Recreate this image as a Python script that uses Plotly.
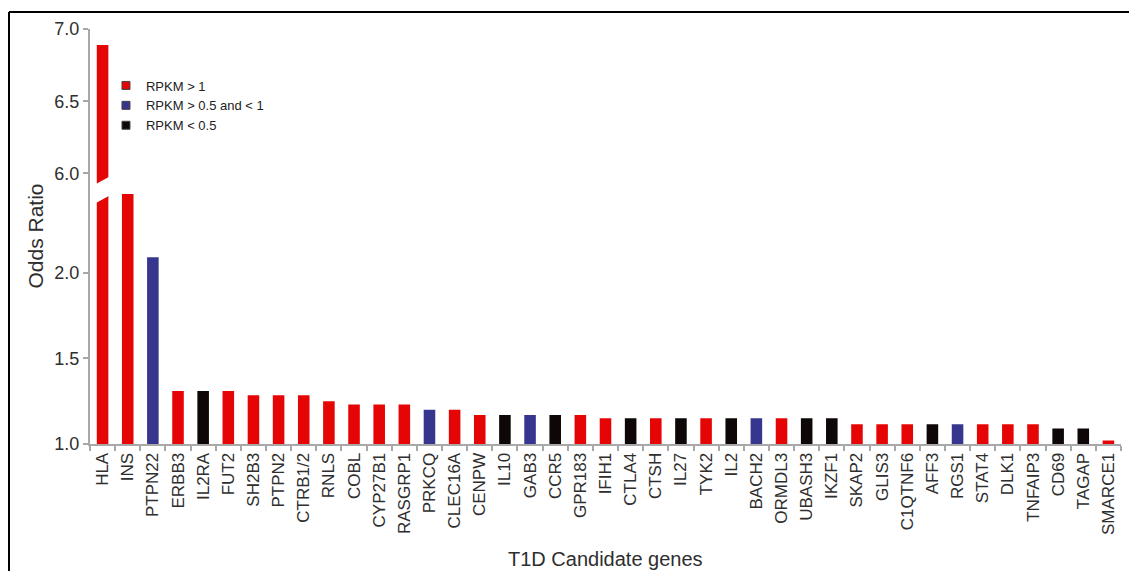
import plotly.graph_objects as go

# T1D candidate genes, odds ratios and RPKM expression class
genes = ["HLA", "INS", "PTPN22", "ERBB3", "IL2RA", "FUT2", "SH2B3", "PTPN2",
         "CTRB1/2", "RNLS", "COBL", "CYP27B1", "RASGRP1", "PRKCQ", "CLEC16A",
         "CENPW", "IL10", "GAB3", "CCR5", "GPR183", "IFIH1", "CTLA4", "CTSH",
         "IL27", "TYK2", "IL2", "BACH2", "ORMDL3", "UBASH3", "IKZF1", "SKAP2",
         "GLIS3", "C1QTNF6", "AFF3", "RGS1", "STAT4", "DLK1", "TNFAIP3", "CD69",
         "TAGAP", "SMARCE1"]
odds_ratio = [6.89, 2.46, 2.09, 1.31, 1.31, 1.31, 1.285, 1.285,
              1.285, 1.25, 1.23, 1.23, 1.23, 1.20, 1.20,
              1.17, 1.17, 1.17, 1.17, 1.17, 1.15, 1.15, 1.15,
              1.15, 1.15, 1.15, 1.15, 1.15, 1.15, 1.15, 1.115,
              1.115, 1.115, 1.115, 1.115, 1.115, 1.115, 1.115, 1.09,
              1.09, 1.02]
rpkm_class = ["high", "high", "mid", "high", "low", "high", "high", "high",
              "high", "high", "high", "high", "high", "mid", "high",
              "high", "low", "mid", "low", "high", "high", "low", "high",
              "low", "high", "low", "mid", "high", "low", "low", "high",
              "high", "high", "low", "mid", "high", "high", "high", "low",
              "low", "high"]

class_names = {"high": "RPKM > 1", "mid": "RPKM > 0.5 and < 1", "low": "RPKM < 0.5"}
class_colors = {"high": "#e60505", "mid": "#37368f", "low": "#0e0707"}
class_order = ["high", "mid", "low"]

lower_ticks = [1.0, 1.5, 2.0]
upper_ticks = [6.0, 6.5, 7.0]

# broken y axis: lower and upper segments
lower_range = [1.0, 2.484]
upper_range = [5.887, 7.0]
split = 0.6125

PLOT_H = 415
BAR_W = 0.46
AXIS_GRAY = "#a8a8a8"
TEXT = "#2e2e2e"
FONT = "Liberation Sans, Arial, Helvetica, sans-serif"

fig = go.Figure()

# lower segment bars, one trace per expression class
for c in class_order:
    xs = [g for g, k in zip(genes, rpkm_class) if k == c]
    ys = [v for v, k in zip(odds_ratio, rpkm_class) if k == c]
    fig.add_trace(go.Bar(x=xs, y=ys, marker=dict(color=class_colors[c], line=dict(width=0)),
                         width=BAR_W, showlegend=False, name=class_names[c],
                         xaxis="x", yaxis="y"))

# upper segment: bars tall enough to reach above the break
top_x = [g for g, v in zip(genes, odds_ratio) if v > lower_range[1]]
top_y = [v - upper_range[0] for v in odds_ratio if v > lower_range[1]]
top_c = [class_colors[k] for v, k in zip(odds_ratio, rpkm_class) if v > lower_range[1]]
fig.add_trace(go.Bar(x=top_x, y=top_y, base=upper_range[0],
                     marker=dict(color=top_c, line=dict(width=0)),
                     width=BAR_W, showlegend=False, xaxis="x2", yaxis="y2"))

# legend swatches
for c in class_order:
    fig.add_trace(go.Scatter(x=[None], y=[None], mode="markers", name=class_names[c],
                             marker=dict(symbol="square", size=8, color=class_colors[c],
                                         line=dict(color="#444444", width=1)),
                             xaxis="x", yaxis="y"))

axis_common = dict(showline=True, linecolor=AXIS_GRAY, linewidth=2,
                   ticks="outside", tickcolor=AXIS_GRAY, ticklen=5, tickwidth=2,
                   showgrid=False, zeroline=False,
                   tickfont=dict(family=FONT, size=17, color=TEXT))

fig.update_layout(
    width=1129, height=571,
    margin=dict(l=90, r=8, t=29, b=127),
    paper_bgcolor="white", plot_bgcolor="white",
    barmode="overlay",
    font=dict(family=FONT, color=TEXT),
    xaxis=dict(type="category", categoryorder="array", categoryarray=genes,
               range=[-0.5, len(genes) - 0.5], tickangle=-90, tickson="boundaries",
               anchor="y", **axis_common),
    xaxis2=dict(matches="x", anchor="y2", visible=False, type="category",
                categoryorder="array", categoryarray=genes),
    yaxis=dict(domain=[0, split], range=lower_range, tickvals=lower_ticks,
               tickformat=".1f", anchor="x",
               **{**axis_common, "tickfont": dict(family=FONT, size=18, color=TEXT)}),
    yaxis2=dict(domain=[split, 1], range=upper_range, tickvals=upper_ticks,
                tickformat=".1f", anchor="x2",
                **{**axis_common, "tickfont": dict(family=FONT, size=18, color=TEXT)}),
    legend=dict(x=0.0155, y=0.9, xanchor="left", yanchor="top",
                font=dict(family=FONT, size=13, color="#222222"),
                bgcolor="rgba(0,0,0,0)", itemwidth=30, tracegroupgap=0),
    showlegend=True,
)

# white slanted band marking the axis break across the tallest bar
slope = 13.7 / PLOT_H
half = 9.5 / PLOT_H
u0, u1 = -0.32, 0.32
fig.add_shape(type="path", xref="x", yref="paper", layer="above",
              path=(f"M {u0},{split + slope * u0 - half} L {u1},{split + slope * u1 - half} "
                    f"L {u1},{split + slope * u1 + half} L {u0},{split + slope * u0 + half} Z"),
              fillcolor="white", line=dict(width=0))

# frame lines along the left and top edges
fig.add_shape(type="line", xref="paper", yref="paper",
              x0=(9 - 90) / 1031, x1=(9 - 90) / 1031, y0=(443 - 11) / PLOT_H, y1=-0.4,
              line=dict(color="black", width=2))
fig.add_shape(type="line", xref="paper", yref="paper",
              x0=(9 - 90) / 1031, x1=1.05, y0=(443 - 11) / PLOT_H, y1=(443 - 11) / PLOT_H,
              line=dict(color="black", width=2))

# axis titles
fig.add_annotation(text="Odds Ratio", xref="paper", yref="paper", x=0, y=0.5,
                   xshift=-55, xanchor="center", yanchor="middle", textangle=-90,
                   showarrow=False, font=dict(family=FONT, size=21, color=TEXT))
fig.add_annotation(text="T1D Candidate genes", xref="paper", yref="paper", x=0.5,
                   y=(443 - 558) / PLOT_H, yanchor="middle", showarrow=False,
                   font=dict(family=FONT, size=20, color=TEXT))

fig.write_html("out.html")
